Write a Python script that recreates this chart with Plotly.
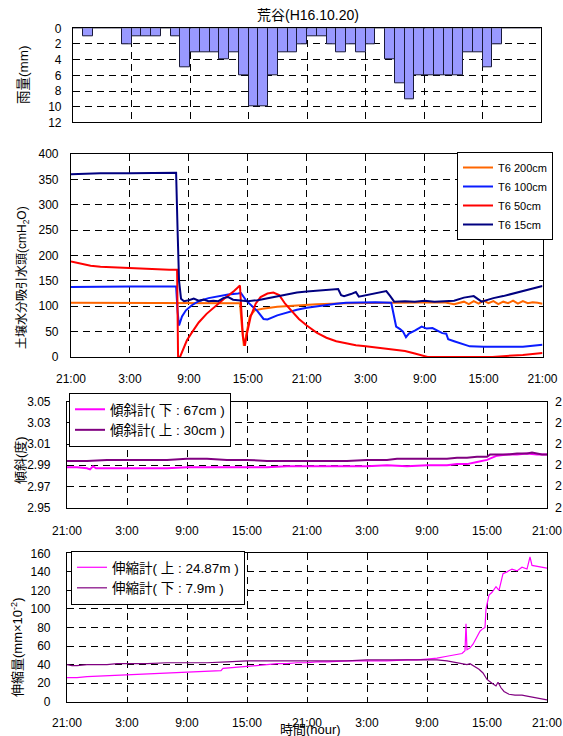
import plotly.graph_objects as go

W, H = 563, 736
FONT = "Liberation Sans, Arial, Noto Sans CJK JP, sans-serif"

# ---------------- data ----------------
hour_ticks = [0, 6, 12, 18, 24, 30, 36, 42, 48]
hour_labels = ["21:00", "3:00", "9:00", "15:00", "21:00", "3:00", "9:00", "15:00", "21:00"]

# hourly rainfall (mm), 48 hours starting 21:00
rain_mm = [0, 1, 0, 0, 0, 2, 1, 1, 1, 0, 1, 5, 3, 3, 3, 4, 3, 6, 10, 10, 6, 3, 3, 2,
           1, 1, 2, 3, 2, 3, 2, 0, 4, 7, 9, 6, 6, 6, 6, 6, 3, 3, 5, 2, 0, 0, 0, 0]

# soil suction head (cmH2O)
t200 = [0, 4, 8, 12, 16, 17.2, 17.4, 17.6, 17.8, 18.2, 18.7, 19.5, 21, 23, 25, 28, 32, 36,
        38, 39, 40, 40.5, 41, 41.5, 42, 42.5, 43, 43.5, 44, 44.5, 45, 45.5, 46, 46.5, 47, 47.5, 48]
v200 = [107, 107, 107, 107, 107, 106, 60, 22, 40, 80, 92, 95, 99, 102, 104, 106, 107, 107,
        108, 104, 109, 104, 110, 105, 111, 106, 110, 104, 109, 106, 111, 105, 110, 106, 108, 107, 105]

t100 = [0, 3, 6, 9, 10.7, 10.85, 11.0, 11.3, 11.7, 12.3, 13, 14, 15, 16, 17, 17.3, 17.8, 18.3,
        19, 19.6, 20, 21, 22, 23, 24, 25, 26, 27, 28, 30, 31, 32.6, 32.9, 33.1, 33.5, 33.8, 34.1,
        34.4, 35, 35.7, 36.2, 36.8, 37.5, 37.8, 38.2, 38.4, 39, 39.5, 40, 40.6, 42, 44, 46, 47, 48]
v100 = [138, 139, 139, 139, 139, 90, 62, 80, 92, 102, 110, 116, 120, 123, 125, 126, 112, 102,
        90, 75, 74, 82, 88, 93, 97, 100, 103, 105, 107, 108, 108, 107, 80, 60, 55, 50, 39,
        46, 52, 60, 56, 57, 50, 47, 46, 35, 31, 28, 24, 21, 20, 20, 20, 22, 24]

t50 = [0, 1, 2, 3, 4, 5, 6, 7, 8, 9, 10, 10.8, 10.85, 10.9, 11.1, 11.4, 11.8, 12.3, 13, 13.8,
       14.8, 15.8, 16.6, 17.2, 17.35, 17.5, 17.7, 17.9, 18.3, 18.8, 19.3, 20, 20.6, 21.2, 21.8,
       22.5, 23.2, 24, 25, 26, 27, 28, 29, 30, 31, 32, 33, 34, 35, 35.8, 36.3, 42.9, 44, 45,
       46, 47, 48]
v50 = [188, 184, 180, 178, 177, 176, 175, 174, 173, 173, 172, 172, 60, 0, 0, 15, 33, 48, 68, 85,
       102, 118, 130, 141, 90, 40, 22, 45, 80, 105, 118, 125, 127, 122, 105,
       90, 75, 62, 48, 38, 31, 27, 23, 21, 19, 17, 14, 12, 7, 2, 0, 0, 2, 3,
       4, 6, 8]

t15 = [0, 2, 3, 6, 9, 10.7, 10.85, 11.0, 11.2, 11.5, 12, 12.5, 13, 13.5, 14, 14.5, 15, 15.5,
       16, 16.5, 17, 18, 19, 20, 21, 22, 23, 24, 25, 26, 27.2, 27.5, 27.8, 28.5, 29, 29.3,
       29.8, 30.5, 31.5, 32.1, 32.5, 32.9, 34, 35, 36, 37, 38, 39, 40, 41, 41.8, 43, 44, 45,
       46, 47, 48]
v15 = [360, 361, 362, 362, 363, 363, 250, 150, 115, 110, 112, 115, 111, 113, 110, 111, 110, 116,
       118, 113, 112, 110, 112, 116, 120, 124, 127, 129, 131, 133, 134, 122, 120, 124, 128, 119,
       121, 125, 128, 130, 120, 109, 110, 109, 111, 109, 110, 111, 117, 120, 109, 116, 120, 125,
       130, 135, 140]

# inclinometers (degrees)
t_inc67 = [0, 1, 2, 2.3, 2.6, 2.9, 4, 6, 8, 10, 12, 14, 16, 18, 20, 22, 24, 26, 28, 30, 32, 34,
           36, 38, 39, 40, 41, 42, 43, 44, 45, 46, 47, 48]
v_inc67 = [2.988, 2.988, 2.987, 2.986, 2.989, 2.987, 2.987, 2.987, 2.987, 2.987, 2.988, 2.988,
           2.988, 2.988, 2.988, 2.989, 2.989, 2.989, 2.989, 2.989, 2.990, 2.989, 2.990, 2.990,
           2.991, 2.991, 2.993, 2.995, 2.999, 3.000, 3.000, 3.001, 3.000, 3.000]
t_inc30 = [0, 2, 4, 8, 10, 12, 14, 16, 18, 20, 24, 28, 30, 32, 33, 36, 38, 39, 40, 41, 42, 42.3,
           44, 45, 46, 46.5, 47, 47.5, 48]
v_inc30 = [2.994, 2.994, 2.995, 2.995, 2.995, 2.996, 2.996, 2.995, 2.995, 2.994, 2.994, 2.994,
           2.995, 2.995, 2.996, 2.996, 2.996, 2.997, 2.997, 2.998, 2.998, 3.000, 3.000, 3.001,
           3.001, 3.002, 3.001, 3.000, 3.000]
inc_ticks = [2.95, 2.97, 2.99, 3.01, 3.03, 3.05]
inc_right_labels = ["2", "2", "2", "2", "2", "2"]

# extensometers (mm x 10^-2)
t_ext_up = [0, 1, 2, 3, 4, 5, 6, 8, 10, 12, 14, 15.4, 15.6, 17, 18, 20, 21, 22, 23, 24, 25, 26,
            28, 30, 32, 34, 35, 36, 37, 38, 38.5, 39, 39.5, 39.8, 39.9, 40.0, 40.3, 40.6, 41.0,
            41.3, 41.5, 41.8, 41.9, 42.2, 42.5, 42.9, 43.2, 43.6, 44, 44.5, 45, 45.5, 46, 46.3,
            46.5, 47, 48]
v_ext_up = [26, 26, 27, 27.5, 28, 29, 29.5, 30, 31, 32, 33, 33.5, 36, 37, 38, 40, 41, 41, 42, 42,
            43, 43, 44, 44, 44, 45, 45, 46, 47, 49, 50, 51, 52, 55, 84, 56, 58, 62, 70,
            76, 78, 80, 100, 115, 118, 124, 120, 138, 140, 143, 141, 145, 143, 156,
            147, 146, 144]
t_ext_dn = [0, 0.5, 1, 2, 4, 5, 6, 8, 10, 14, 16, 18, 20, 24, 28, 30, 33, 35, 36, 37, 38, 38.5,
            39, 39.5, 40, 40.3, 40.7, 41.2, 41.6, 42, 42.5, 42.9, 43.1, 43.4, 43.7, 44.2, 44.8,
            45.5, 46, 46.5, 47, 47.5, 48]
v_ext_dn = [40, 39, 39, 40, 40, 41, 41, 41, 42, 42, 43, 44, 44, 44, 44, 45, 45, 45, 45, 45, 44, 43,
            42, 41, 40, 41, 38, 35, 31, 24, 20, 17, 21, 15, 11, 8, 7,
            7, 6, 5, 4, 3, 2]

# ---------------- figure ----------------
def xd(l, r):
    return [l / W, r / W]

def yd(top, bottom):
    return [(H - bottom) / H, (H - top) / H]

fig = go.Figure()

fig.add_trace(go.Bar(x=[i + 0.5 for i in range(len(rain_mm))], y=rain_mm, width=1,
                     marker=dict(color="#9999FF", line=dict(color="#1a1a3a", width=1)),
                     xaxis="x", yaxis="y", showlegend=False))

for name, t, v, c in [("T6 200cm", t200, v200, "#FF6600"),
                      ("T6 100cm", t100, v100, "#0a1cff"),
                      ("T6 50cm", t50, v50, "#FF0000"),
                      ("T6 15cm", t15, v15, "#000080")]:
    fig.add_trace(go.Scatter(x=t, y=v, mode="lines", name=name, line=dict(color=c, width=2),
                             xaxis="x2", yaxis="y2", legend="legend"))

fig.add_trace(go.Scatter(x=t_inc67, y=v_inc67, mode="lines", name="傾斜計( 下 : 67cm )",
                         line=dict(color="#FF00FF", width=2), xaxis="x3", yaxis="y3",
                         legend="legend2"))
fig.add_trace(go.Scatter(x=t_inc30, y=v_inc30, mode="lines", name="傾斜計( 上 : 30cm )",
                         line=dict(color="#800080", width=2), xaxis="x3", yaxis="y3",
                         legend="legend2"))

fig.add_trace(go.Scatter(x=t_ext_up, y=v_ext_up, mode="lines", name="伸縮計( 上 : 24.87m )",
                         line=dict(color="#FF00FF", width=1.2), xaxis="x4", yaxis="y4",
                         legend="legend3"))
fig.add_trace(go.Scatter(x=t_ext_dn, y=v_ext_dn, mode="lines", name="伸縮計( 下 : 7.9m )",
                         line=dict(color="#800080", width=1.2), xaxis="x4", yaxis="y4",
                         legend="legend3"))

grid = dict(showgrid=True, gridcolor="#000000", gridwidth=1, griddash="7px,5px")
line = dict(showline=True, linecolor="#000000", linewidth=1.2, mirror=True, ticks="",
            zeroline=False, automargin=False,
            tickfont=dict(size=12, color="#000000", family=FONT))

def xaxis(dom, anchor, labels=True, standoff=9):
    return dict(domain=dom, anchor=anchor, range=[0, 48], tickmode="array",
                tickvals=hour_ticks, ticktext=hour_labels,
                showticklabels=labels, ticklabelstandoff=standoff, **grid, **line)

legend_style = dict(xanchor="left", yanchor="top", bgcolor="white", bordercolor="#000000",
                    borderwidth=1)

fig.update_layout(
    width=W, height=H, margin=dict(l=0, r=0, t=0, b=0, autoexpand=False),
    paper_bgcolor="white", plot_bgcolor="white",
    font=dict(family=FONT, size=12, color="#000000"),
    bargap=0,
    xaxis=xaxis(xd(73, 541), "y", labels=False),
    yaxis=dict(domain=yd(28.3, 122.4), anchor="x", range=[12, 0], tickvals=list(range(0, 13, 2)),
               ticklabelstandoff=8, **grid, **line),
    xaxis2=xaxis(xd(71, 542.5), "y2", standoff=10),
    yaxis2=dict(domain=yd(154, 357), anchor="x2", range=[0, 400], tickvals=list(range(0, 401, 50)),
                ticklabelstandoff=9, **grid, **line),
    xaxis3=xaxis(xd(67, 547), "y3", standoff=12),
    yaxis3=dict(domain=yd(401.7, 507.5), anchor="x3", range=[2.95, 3.05],
                tickvals=inc_ticks, tickformat=".2f", ticklabelstandoff=13, **grid, **line),
    xaxis4=xaxis(xd(67, 547), "y4", standoff=10),
    yaxis4=dict(domain=yd(553.3, 701.7), anchor="x4", range=[0, 160],
                tickvals=list(range(0, 161, 20)), ticklabelstandoff=13, **grid, **line),
    legend=dict(x=457 / W, y=(H - 152) / H, font=dict(size=11, family=FONT),
                tracegroupgap=0, **legend_style),
    legend2=dict(x=69 / W, y=(H - 393) / H, font=dict(size=13.5, family=FONT), **legend_style),
    legend3=dict(x=71 / W, y=(H - 551) / H, font=dict(size=13.5, family=FONT), **legend_style),
)

def ann(text, x, y, angle=0, size=12, xanchor="center"):
    fig.add_annotation(text=text, x=x / W, y=(H - y) / H, xref="paper", yref="paper",
                       showarrow=False, textangle=angle, xanchor=xanchor, yanchor="middle",
                       font=dict(size=size, family=FONT, color="#000000"))

ann("荒谷(H16.10.20)", 308, 15, size=14)
ann("雨量(mm)", 24, 75, angle=-90, size=13.5)
ann("土壌水分吸引水頭(cmH<sub>2</sub>O)", 23, 278, angle=-90, size=12)
ann("傾斜(度)", 20, 460, angle=-90, size=13)
ann("伸縮量(mm×10<sup>-2</sup>)", 17, 648, angle=-90, size=13)
ann("時間(hour)", 310, 729, size=13)

# right-hand tick labels of the inclinometer panel (cut at the page edge)
for val, txt in zip(inc_ticks, inc_right_labels):
    fig.add_annotation(text=txt, x=553 / W, y=val, xref="paper", yref="y3", showarrow=False,
                       xanchor="left", yanchor="middle",
                       font=dict(size=12.5, family=FONT, color="#000000"))

fig.write_html("out.html")
